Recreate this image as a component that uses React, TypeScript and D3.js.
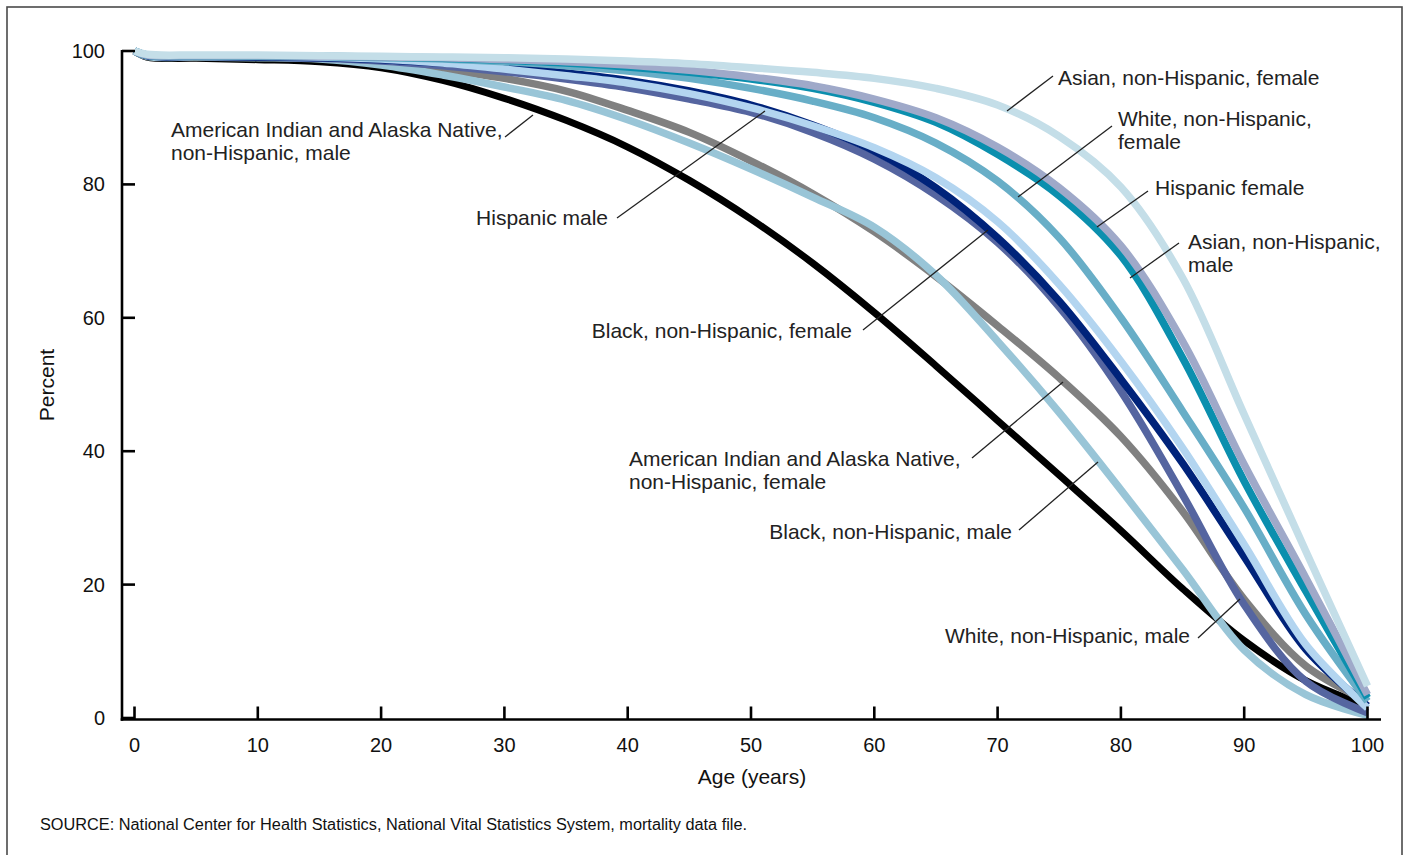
import React from "react";
import * as d3 from "d3";

// ---- Data (percent surviving by age) ----
const ages = [0, 1, 5, 10, 15, 20, 25, 30, 35, 40, 45, 50, 55, 60, 65, 70, 75, 80, 85, 90, 95, 100];

const aianMale = [100, 99.1, 98.9, 98.7, 98.4, 97.5, 95.6, 92.9, 89.6, 85.6, 80.6, 74.8, 68.2, 60.8, 52.8, 44.6, 36.4, 28.1, 19.4, 11.6, 5.6, 1.8];
const aianFemale = [100, 99.3, 99.2, 99.1, 98.9, 98.3, 97.2, 95.9, 94, 91.1, 87.8, 83.5, 78.6, 72.9, 66.2, 58.8, 51, 42.2, 31, 17.8, 7.8, 2.5];
const blackMale = [100, 99.2, 99.1, 99.0, 98.8, 97.9, 96.4, 94.6, 92.6, 89.7, 86.2, 82.3, 78.1, 73.6, 66.4, 56.5, 45.8, 34.2, 22.3, 10.2, 3.5, 0.4];
const whiteMale = [100, 99.3, 99.2, 99.1, 98.9, 98.5, 97.8, 96.9, 95.8, 94.5, 92.8, 90.8, 87.8, 83.8, 78.4, 71.3, 61.6, 49, 33.5, 17, 5.5, 0.8];
const blackFemale = [100, 99.3, 99.2, 99.1, 99, 98.7, 98.2, 97.6, 96.7, 95.6, 94, 91.9, 88.9, 85, 79.5, 72, 62.5, 50.8, 38.2, 24.2, 10.3, 1.8];
const hispanicMale = [100, 99.4, 99.3, 99.2, 99.1, 98.8, 98.2, 97.3, 96.3, 95.2, 93.6, 91.5, 88.8, 85.5, 81, 74.4, 65, 53.5, 40.5, 26, 11, 1.5];
const whiteFemale = [100, 99.4, 99.3, 99.2, 99.2, 99, 98.8, 98.4, 97.8, 97, 95.9, 94.4, 92.5, 90, 86.2, 80.5, 72, 60, 46, 31.5, 15.5, 2.5];
const hispanicFemale = [100, 99.4, 99.3, 99.3, 99.2, 99.1, 98.9, 98.6, 98.2, 97.6, 96.8, 95.8, 94.4, 92.3, 89.3, 84.5, 78.3, 69.3, 54, 35.5, 19, 3];
const asianMale = [100, 99.4, 99.3, 99.3, 99.2, 99.1, 99, 98.7, 98.4, 97.9, 97.1, 96.1, 94.8, 92.8, 90, 85.6, 79.5, 70.8, 56.5, 38, 21, 3.5];
const asianFemale = [100, 99.5, 99.4, 99.4, 99.3, 99.2, 99.1, 99, 98.8, 98.5, 98.1, 97.5, 96.8, 95.9, 94.4, 91.9, 87.2, 79.6, 66, 45.5, 25, 4.8];

const xTicks = [0, 10, 20, 30, 40, 50, 60, 70, 80, 90, 100];
const yTicks = [0, 20, 40, 60, 80, 100];

// drawing order bottom -> top
const series = [
  { name: "aianMale", values: aianMale, color: "#000000", width: 7 },
  { name: "aianFemale", values: aianFemale, color: "#808080", width: 7.5 },
  { name: "blackMale", values: blackMale, color: "#99c5d7", width: 7.5 },
  { name: "whiteMale", values: whiteMale, color: "#5565a0", width: 7.5 },
  { name: "blackFemale", values: blackFemale, color: "#00237a", width: 7.5 },
  { name: "hispanicMale", values: hispanicMale, color: "#b3d5f0", width: 7.5 },
  { name: "whiteFemale", values: whiteFemale, color: "#68aec7", width: 7.5 },
  { name: "hispanicFemale", values: hispanicFemale, color: "#0b8fae", width: 7.5 },
  { name: "asianMale", values: asianMale, color: "#9fa9c9", width: 7.5 },
  { name: "asianFemale", values: asianFemale, color: "#c4dee8", width: 7.5 },
];

// annotation layout: text lines, anchor, baseline position, leader line
const annotations = [
  { lines: ["Asian, non-Hispanic, female"], x: 1058, y: 85, anchor: "start", leader: [1053, 76, 1007, 111] },
  { lines: ["White, non-Hispanic,", "female"], x: 1118, y: 126, anchor: "start", leader: [1112, 126, 1018, 197] },
  { lines: ["Hispanic female"], x: 1155, y: 195, anchor: "start", leader: [1148, 191, 1097, 227] },
  { lines: ["Asian, non-Hispanic,", "male"], x: 1188, y: 249, anchor: "start", leader: [1179, 243, 1130, 278] },
  { lines: ["American Indian and Alaska Native,", "non-Hispanic, male"], x: 171, y: 136.5, anchor: "start", leader: [505, 137, 533, 115] },
  { lines: ["Hispanic male"], x: 608, y: 225, anchor: "end", leader: [617, 218, 765, 111] },
  { lines: ["Black, non-Hispanic, female"], x: 852, y: 338, anchor: "end", leader: [863, 330, 988, 230] },
  { lines: ["American Indian and Alaska Native,", "non-Hispanic, female"], x: 629, y: 466, anchor: "start", leader: [972, 458, 1063, 382] },
  { lines: ["Black, non-Hispanic, male"], x: 1012, y: 539, anchor: "end", leader: [1019, 530, 1098, 462] },
  { lines: ["White, non-Hispanic, male"], x: 1190, y: 643, anchor: "end", leader: [1198, 638, 1240, 599] },
];

const FONT = "Arial, 'Liberation Sans', Helvetica, sans-serif";

export default function App() {
  const W = 1403;
  const H = 855;
  const x = d3.scaleLinear().domain([0, 100]).range([134.5, 1367.5]);
  const y = d3.scaleLinear().domain([0, 100]).range([718, 51]);

  const line = d3
    .line<number>()
    .x((_, i) => x(ages[i]))
    .y((d) => y(d))
    .curve(d3.curveCatmullRom.alpha(0.5));

  const axisLeftX = 122;
  const axisBottomY = 719.5;

  return (
    <svg
      width={W}
      height={H}
      style={{ position: "absolute", left: 0, top: 0, background: "#fff" }}
      fontFamily={FONT}
    >
      <rect x={7} y={7} width={1395} height={900} fill="#fff" stroke="#4a4a4a" strokeWidth={1.6} />

      {/* series */}
      <g fill="none" strokeLinejoin="round">
        {series.map((s) => (
          <path key={s.name} d={line(s.values) || ""} stroke={s.color} strokeWidth={s.width} />
        ))}
      </g>

      {/* axes */}
      <g stroke="#000" strokeWidth={2.6}>
        <line x1={axisLeftX} x2={axisLeftX} y1={y(100) - 1} y2={axisBottomY + 1.3} />
        <line x1={axisLeftX - 1.3} x2={1381} y1={axisBottomY} y2={axisBottomY} />
        {yTicks.map((t) => (
          <line key={"yt" + t} x1={axisLeftX} x2={axisLeftX + 13} y1={y(t)} y2={y(t)} />
        ))}
        {xTicks.map((t) => (
          <line key={"xt" + t} x1={x(t)} x2={x(t)} y1={axisBottomY} y2={axisBottomY - 13} />
        ))}
      </g>
      <g fontSize={20} fill="#111">
        {yTicks.map((t) => (
          <text key={"yl" + t} x={105} y={y(t)} dy="0.35em" textAnchor="end">
            {t}
          </text>
        ))}
        {xTicks.map((t) => (
          <text key={"xl" + t} x={x(t)} y={745} dy="0.35em" textAnchor="middle">
            {t}
          </text>
        ))}
      </g>
      <text x={752} y={777} dy="0.35em" textAnchor="middle" fontSize={21} fill="#111">
        Age (years)
      </text>
      <text
        transform="translate(47,385) rotate(-90)"
        dy="0.35em"
        textAnchor="middle"
        fontSize={21}
        fill="#111"
      >
        Percent
      </text>

      {/* annotations */}
      <g fontSize={21} fill="#222">
        {annotations.map((a, i) => (
          <g key={"an" + i}>
            <line
              x1={a.leader[0]}
              y1={a.leader[1]}
              x2={a.leader[2]}
              y2={a.leader[3]}
              stroke="#222"
              strokeWidth={1.3}
            />
            {a.lines.map((l, j) => (
              <text key={j} x={a.x} y={a.y + j * 23} textAnchor={a.anchor as any}>
                {l}
              </text>
            ))}
          </g>
        ))}
      </g>

      <text x={40} y={824} dy="0.35em" fontSize={16} fill="#111" textLength={707} lengthAdjust="spacingAndGlyphs">
        SOURCE: National Center for Health Statistics, National Vital Statistics System, mortality data file.
      </text>
    </svg>
  );
}
